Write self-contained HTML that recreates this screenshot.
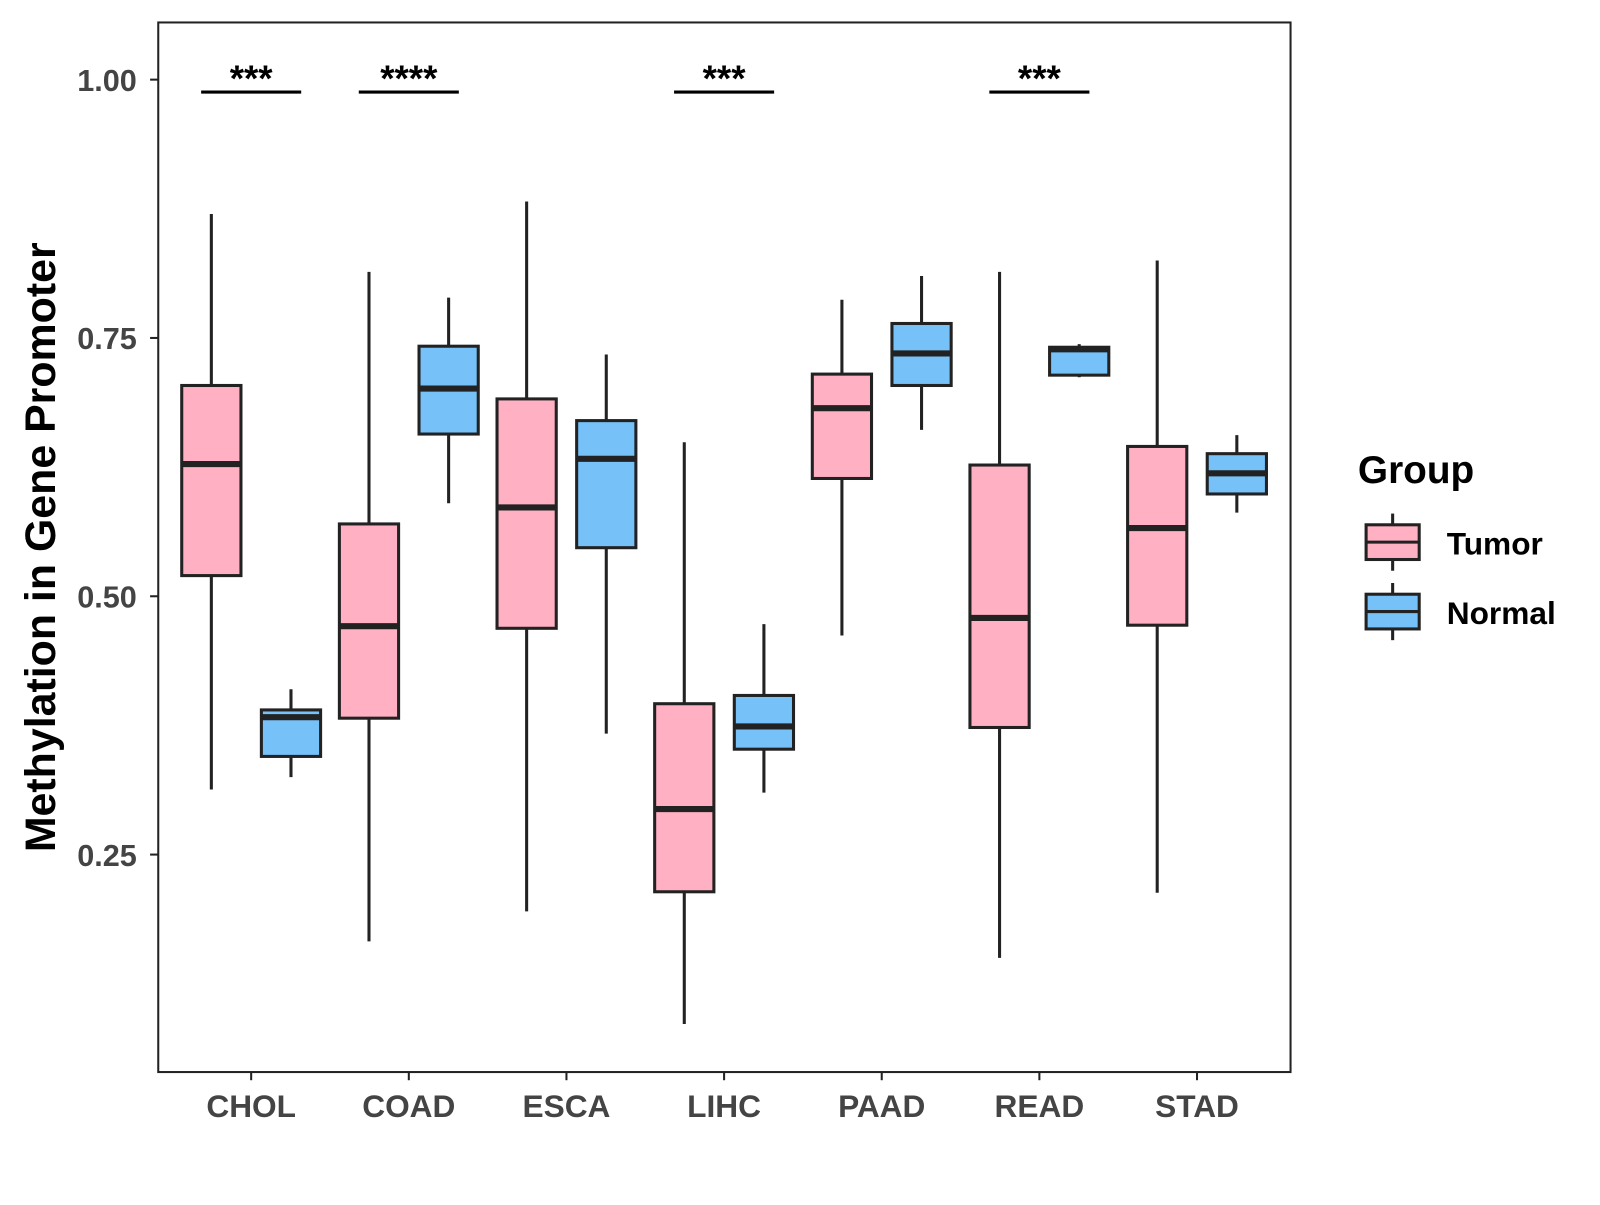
<!DOCTYPE html>
<html><head><meta charset="utf-8"><style>
html,body{margin:0;padding:0;background:#fff;}
svg text{font-family:"Liberation Sans",Arial,sans-serif;font-weight:bold;}
</style></head><body>
<svg width="1600" height="1200" xmlns="http://www.w3.org/2000/svg">
<rect x="0" y="0" width="1600" height="1200" fill="#fff"/>
<g id="chart" transform="scale(1.021)">
<g id="marks"></g>
<rect x="155" y="22" width="1109" height="1028" fill="none" stroke="#222" stroke-width="2"/>
<text transform="translate(54,536) rotate(-90)" text-anchor="middle" font-size="42" fill="#000">Methylation in Gene Promoter</text>
<g>
<text x="1330" y="473" font-size="38" fill="#000">Group</text>
<line x1="1364" y1="503" x2="1364" y2="559" stroke="#222" stroke-width="3"/>
<rect x="1338" y="514" width="52" height="34" fill="#FFB1C3" stroke="#222" stroke-width="3"/>
<line x1="1338" y1="531" x2="1390" y2="531" stroke="#222" stroke-width="3"/>
<text x="1417" y="543" font-size="31" fill="#000">Tumor</text>
<line x1="1364" y1="571" x2="1364" y2="627" stroke="#222" stroke-width="3"/>
<rect x="1338" y="582" width="52" height="34" fill="#76C1F8" stroke="#222" stroke-width="3"/>
<line x1="1338" y1="599" x2="1390" y2="599" stroke="#222" stroke-width="3"/>
<text x="1417" y="611" font-size="31" fill="#000">Normal</text>
</g>
</g>
</svg>
<script>
const categories=["CHOL","COAD","ESCA","LIHC","PAAD","READ","STAD"];
// [low, q1, median, q3, high]
const tumorStats=[[0.313,0.520,0.628,0.704,0.870],[0.166,0.382,0.471,0.570,0.814],[0.195,0.469,0.586,0.691,0.882],[0.086,0.214,0.294,0.396,0.649],[0.462,0.614,0.682,0.715,0.787],[0.150,0.373,0.479,0.627,0.814],[0.213,0.472,0.566,0.645,0.825]];
const normalStats=[[0.325,0.345,0.383,0.390,0.410],[0.590,0.657,0.701,0.742,0.789],[0.367,0.547,0.633,0.670,0.734],[0.310,0.352,0.374,0.404,0.473],[0.661,0.704,0.735,0.764,0.810],[0.712,0.714,0.739,0.741,0.744],[0.581,0.599,0.619,0.638,0.656]];
const yTicks=[0.25,0.50,0.75,1.00];
const yTickLabels=["0.25","0.50","0.75","1.00"];
const sigCategories=["CHOL","COAD","LIHC","READ"];
const sigLabels=["***","****","***","***"];
const sigLevel=0.988;

const NS="http://www.w3.org/2000/svg";
const g=document.getElementById('marks');
const svg=document.getElementById('chart');
function yS(v){return 78+(1-v)*1012;}
function xS(i){return 246+i*154.4;}
function mk(tag,attrs,parent){const e=document.createElementNS(NS,tag);for(const k in attrs)e.setAttribute(k,attrs[k]);(parent||g).appendChild(e);return e;}

function drawBox(s,cx,fill,name){
  const w=58;
  const l=mk('line',{x1:cx,x2:cx,y1:yS(s[4]),y2:yS(s[0]),stroke:'#222','stroke-width':3});
  
  
  const r=mk('rect',{x:cx-w/2,y:yS(s[3]),width:w,height:yS(s[1])-yS(s[3]),fill:fill,stroke:'#222','stroke-width':3});
  
  
  const m=mk('line',{x1:cx-w/2,x2:cx+w/2,y1:yS(s[2]),y2:yS(s[2]),stroke:'#222','stroke-width':6});
  
  
}
categories.forEach((c,i)=>{
  const cx=xS(i);
  drawBox(tumorStats[i],cx-39,'#FFB1C3','box-'+c.toLowerCase()+'-tumor');
  drawBox(normalStats[i],cx+39,'#76C1F8','box-'+c.toLowerCase()+'-normal');
  const t=mk('line',{x1:cx,x2:cx,y1:1050,y2:1058,stroke:'#222','stroke-width':2},svg);
  
  
  const tx=mk('text',{x:cx,y:1094,'text-anchor':'middle','font-size':31,fill:'#444'},svg);
  tx.textContent=c;
  
  
});
yTicks.forEach((v,i)=>{
  const t=mk('line',{x1:147,x2:155,y1:yS(v),y2:yS(v),stroke:'#222','stroke-width':2},svg);
  
  
  const tx=mk('text',{x:134,y:yS(v)+11,'text-anchor':'end','font-size':30,fill:'#444'},svg);
  tx.textContent=yTickLabels[i];
  
  
});
sigCategories.forEach((c,k)=>{
  const cx=xS(categories.indexOf(c));
  const l=mk('line',{x1:cx-49,x2:cx+49,y1:yS(sigLevel),y2:yS(sigLevel),stroke:'#000','stroke-width':3});
  
  
  const tx=mk('text',{x:cx,y:yS(sigLevel)-1,'text-anchor':'middle','font-size':36,fill:'#000'});
  tx.textContent=sigLabels[k];
  
  
});
</script>
</body></html>
